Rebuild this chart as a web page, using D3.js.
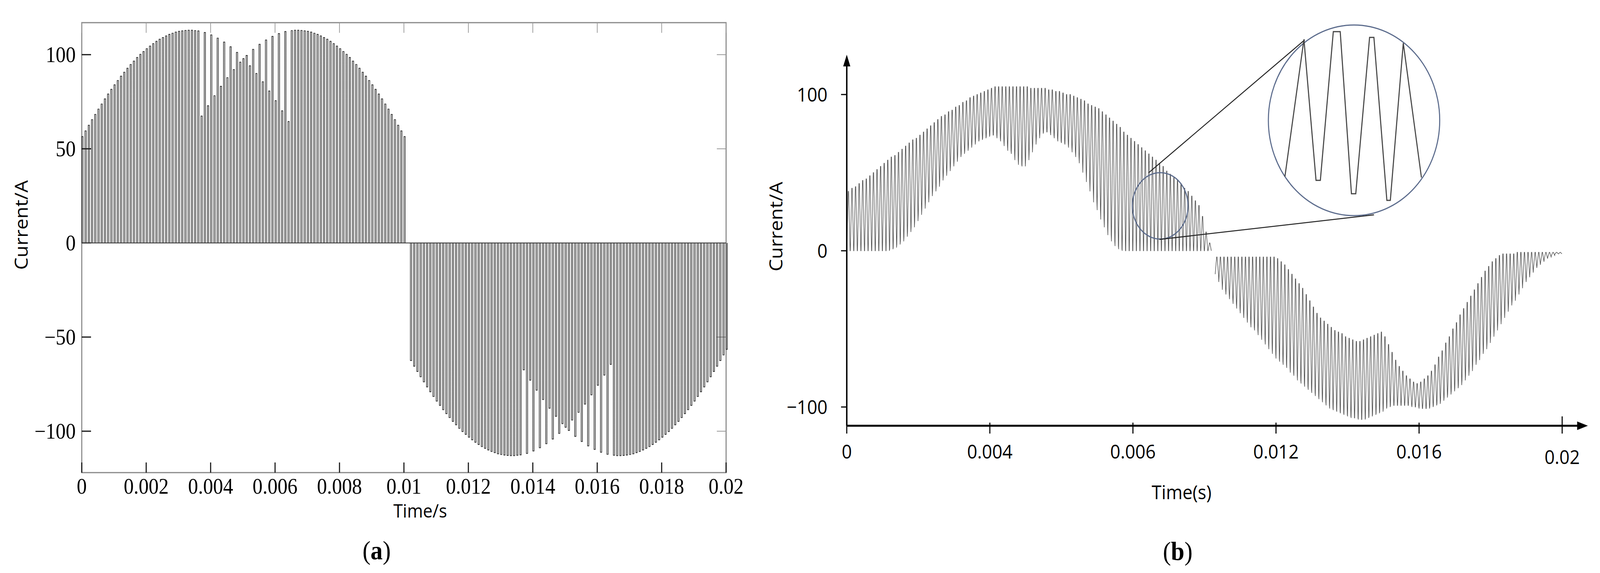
<!DOCTYPE html>
<html><head><meta charset="utf-8">
<script src="https://cdn.jsdelivr.net/npm/d3@7"></script>
<style>html,body{margin:0;padding:0;background:#fff;overflow:hidden}svg{display:block}</style>
</head><body>
<script>
// ---------- DATA ----------
// Panel (a): pulse train, one pulse every 0.1 ms
const pulseStepA = 0.0001;
const posStartA = 0.0;
const posPulsesA = [56.5,59.5,62.5,65.5,68.3,71.1,73.8,76.5,79.1,81.6,84.0,86.3,88.6,90.7,92.8,94.8,96.6,98.5,100.2,101.7,
103.2,104.6,105.9,107.1,108.2,109.1,110.0,110.8,111.4,112.0,112.4,112.7,112.9,113.0,113.0,112.8,
112.6,67.4,111.8,72.9,110.5,78.2,108.8,83.2,106.7,87.8,104.2,92.1,101.2,96.0,97.9,99.6,94.1,102.8,90.0,105.5,85.6,107.8,80.7,109.7,75.6,111.2,70.2,112.3,64.5,
112.8,113.0,113.0,112.9,112.7,112.4,112.0,111.4,110.8,110.0,109.1,108.2,107.1,105.9,104.6,103.2,101.7,100.2,98.5,96.6,94.8,92.8,90.7,88.6,86.3,84.0,81.6,79.1,76.5,73.8,71.1,68.3,65.5,62.5,59.5,56.5];
const negStartA = 0.0102;
const negPulsesA = [-62.5,-65.5,-68.3,-71.1,-73.8,-76.5,-79.1,-81.6,-84.0,-86.3,-88.6,-90.7,-92.8,-94.8,-96.6,-98.5,-100.2,-101.7,
-103.2,-104.6,-105.9,-107.1,-108.2,-109.1,-110.0,-110.8,-111.4,-112.0,-112.4,-112.7,-112.9,-113.0,-113.0,-112.8,
-112.6,-67.4,-111.8,-72.9,-110.5,-78.2,-108.8,-83.2,-106.7,-87.8,-104.2,-92.1,-101.2,-96.0,-97.9,-99.6,-94.1,-102.8,-90.0,-105.5,-85.6,-107.8,-80.7,-109.7,-75.6,-111.2,-70.2,-112.3,-64.5,
-112.8,-113.0,-113.0,-112.9,-112.7,-112.4,-112.0,-111.4,-110.8,-110.0,-109.1,-108.2,-107.1,-105.9,-104.6,-103.2,-101.7,-100.2,-98.5,-96.6,-94.8,-92.8,-90.7,-88.6,-86.3,-84.0,-81.6,-79.1,-76.5,-73.8,-71.1,-68.3,-65.5,-62.5,-59.5,-56.5];
const xTicksA = [0,0.002,0.004,0.006,0.008,0.01,0.012,0.014,0.016,0.018,0.02];
const xTickLabelsA = ["0","0.002","0.004","0.006","0.008","0.01","0.012","0.014","0.016","0.018","0.02"];
const yTicksA = [-100,-50,0,50,100];
const yTickLabelsA = ["\u2212100","\u221250","0","50","100"];

// Panel (b): ripple current, one cycle every 0.1 ms, upper and lower value of each cycle
const cycleStepB = 0.0001;
const posStartB = 0.0;
const posHighB = [38,40,41,43,45,46,48,50,52,54,56,
58,60,61,63,65,67,69,71,72,74,
76,78,80,82,84,86,87,89,90,92,
93,95,96,98,99,100,101,102,103,104,
105,105,105,105,105,105,105,105,105,105,
104,104,104,104,104,103,103,102,102,101,
100,100,99,98,97,96,94,93,92,91,
89,87,85,83,81,79,76,74,72,70,
68,66,64,62,60,58,56,54,51,49,
47,45,43,40,38,35,32,29,22,12,5];
const posLowB = [0,0,0,0,0,0,0,0,0,0,0,
0,1,2,4,6,9,12,15,19,23,
27,31,35,38,41,45,48,51,54,57,
60,62,64,66,68,70,71,72,73,74,
74,72,70,67,64,62,58,55,54,58,
63,68,72,75,76,76,74,72,70,69,
68,66,63,60,56,50,44,38,31,26,
20,15,10,6,3,1,0,0,0,0,
0,0,0,0,0,0,0,0,0,0,
0,0,0,0,0,0,0,0,0,0,0];
const negStartB = 0.0103;
const negHighB = [-4,-4,-4,-4,-4,-4,-4,-4,-4,-4,
-4,-4,-4,-4,-4,-4,-4,-5,-7,-9,
-12,-15,-18,-21,-24,-28,-32,-36,-40,-43,
-45,-47,-49,-51,-52,-53,-55,-56,-57,-58,
-58,-57,-56,-55,-54,-53,-52,-55,-60,-65,
-70,-74,-77,-80,-82,-84,-85,-84,-82,-80,
-77,-73,-68,-64,-59,-55,-50,-46,-41,-37,
-33,-29,-25,-21,-17,-13,-10,-7,-5,-3,
-2,-2,-2,-2,-1,-1,-1,-1,-1,-1,-1,-1,-1,-1,-1,-1,-1];
const negLowB = [-15,-20,-25,-28,-31,-34,-37,-40,-43,-46,
-49,-51,-54,-57,-60,-63,-66,-69,-71,-73,
-75,-78,-80,-83,-85,-87,-89,-91,-93,-95,
-97,-99,-101,-102,-103,-104,-105,-106,-107,-107,
-108,-108,-107,-106,-105,-104,-103,-101,-100,-99,
-99,-99,-99,-99,-99,-100,-100,-101,-101,-101,
-100,-99,-98,-96,-94,-92,-90,-88,-86,-83,
-80,-77,-73,-70,-66,-63,-59,-55,-51,-47,
-43,-39,-35,-32,-28,-24,-20,-17,-14,-11,
-9,-7,-5,-4,-3,-2,-2];
const xTicksB = [0,0.004,0.008,0.012,0.016,0.02];
const xTickLabelsB = ["0","0.004","0.006","0.012","0.016","0.02"];
const yTicksB = [-100,0,100];
const yTickLabelsB = ["\u2212100","0","100"];
// zoomed-in detail (inset), in units of the inset radius
const insetX = [-0.80,-0.58,-0.44,-0.39,-0.24,-0.16,-0.03,0.02,0.18,0.23,0.38,0.42,0.57,0.78];
const insetY = [0.59,-0.85,0.63,0.63,-0.93,-0.93,0.77,0.77,-0.87,-0.87,0.84,0.84,-0.81,0.60];

// ---------- DRAW ----------
const W = 4482, H = 1467;
const svg = d3.select("body").append("svg")
  .attr("viewBox", `0 0 ${W} ${H}`).attr("preserveAspectRatio", "none")
  .style("width", "100vw").style("height", "100vh");
const SANS = "'Open Sans', sans-serif", SERIF = "'Liberation Serif', serif";

// ===== Panel (a) =====
const xa = d3.scaleLinear().domain([0, 0.02]).range([229, 2034]);
const ya = d3.scaleLinear().domain([-122, 117]).range([1210, 58]);
const ga = svg.append("g");
const frameCol = "#888";
ga.append("rect").attr("x", xa(0)).attr("y", ya(117)).attr("width", xa(0.02) - xa(0))
  .attr("height", ya(-122) - ya(117)).attr("fill", "none").attr("stroke", frameCol).attr("stroke-width", 3);
const tl = 26;
xTicksA.forEach(v => {
  ga.append("line").attr("x1", xa(v)).attr("x2", xa(v)).attr("y1", ya(-122)).attr("y2", ya(-122) - tl).attr("stroke", "#111").attr("stroke-width", 3);
  ga.append("line").attr("x1", xa(v)).attr("x2", xa(v)).attr("y1", ya(117)).attr("y2", ya(117) + tl).attr("stroke", "#999").attr("stroke-width", 2);
});
yTicksA.forEach(v => {
  ga.append("line").attr("x1", xa(0)).attr("x2", xa(0) + tl).attr("y1", ya(v)).attr("y2", ya(v)).attr("stroke", "#111").attr("stroke-width", 3);
  ga.append("line").attr("x1", xa(0.02)).attr("x2", xa(0.02) - tl).attr("y1", ya(v)).attr("y2", ya(v)).attr("stroke", "#999").attr("stroke-width", 2);
});
ga.selectAll("text.xt").data(xTicksA).join("text").attr("class", "xt")
  .attr("x", d => xa(d)).attr("y", 1264).attr("text-anchor", "middle")
  .attr("font-family", SERIF).attr("font-size", 56).text((d, i) => xTickLabelsA[i]);
ga.selectAll("text.yt").data(yTicksA).join("text").attr("class", "yt")
  .attr("x", 212).attr("y", d => ya(d) + 19).attr("text-anchor", "end")
  .attr("font-family", SERIF).attr("font-size", 56).text((d, i) => yTickLabelsA[i]);

ga.append("line").attr("x1", xa(0)).attr("x2", xa(0.02)).attr("y1", ya(0)).attr("y2", ya(0)).attr("stroke", "#555").attr("stroke-width", 2.5);
const pw = 0.00004;
function pulsePath(start, arr) {
  let p = "";
  arr.forEach((h, i) => {
    const t = start + i * pulseStepA;
    p += `M${xa(t)},${ya(0)}L${xa(t)},${ya(h)}L${xa(t + pw)},${ya(h)}L${xa(t + pw)},${ya(0)}`;
  });
  return p;
}
ga.append("path").attr("d", pulsePath(posStartA, posPulsesA)).attr("fill", "none").attr("stroke", "#222").attr("stroke-width", 1.7);
ga.append("path").attr("d", pulsePath(negStartA, negPulsesA)).attr("fill", "none").attr("stroke", "#222").attr("stroke-width", 1.7);

ga.append("text").attr("transform", "translate(78,576) rotate(-90)").attr("text-anchor", "middle")
  .attr("font-family", SANS).attr("font-size", 50).text("Current/A");
ga.append("text").attr("x", 1177).attr("y", 1325).attr("text-anchor", "middle")
  .attr("font-family", SANS).attr("font-size", 48).text("Time/s");
const capA = ga.append("text").attr("x", 1055).attr("y", 1432).attr("text-anchor", "middle")
  .attr("font-family", SERIF).attr("font-size", 68);
capA.append("tspan").text("(");
capA.append("tspan").attr("font-weight", "bold").text("a");
capA.append("tspan").text(")");

// ===== Panel (b) =====
const xb = d3.scaleLinear().domain([0, 0.02]).range([2372, 4376]);
const yb = d3.scaleLinear().domain([-100, 100]).range([1042, 242]);
const gb = svg.append("g");
const axisY = 1090;
function ripplePath(start, hi, lo) {
  const pts = [];
  hi.forEach((h, i) => {
    const t = start + i * cycleStepB;
    pts.push([t, lo[i]], [t + 0.00004, h], [t + 0.000052, h], [t + 0.000092, lo[i]]);
  });
  return d3.line().x(d => xb(d[0])).y(d => yb(d[1]))(pts);
}
gb.append("path").attr("d", ripplePath(posStartB, posHighB, posLowB)).attr("fill", "none").attr("stroke", "#555").attr("stroke-width", 1.6);
gb.append("path").attr("d", ripplePath(negStartB, negHighB, negLowB)).attr("fill", "none").attr("stroke", "#555").attr("stroke-width", 1.6);

gb.append("line").attr("x1", xb(0)).attr("x2", 4432).attr("y1", axisY).attr("y2", axisY).attr("stroke", "#000").attr("stroke-width", 5);
gb.append("path").attr("d", `M4448,${axisY}L4418,${axisY - 11}L4418,${axisY + 11}Z`).attr("fill", "#000");
gb.append("line").attr("x1", xb(0)).attr("x2", xb(0)).attr("y1", axisY).attr("y2", 160).attr("stroke", "#000").attr("stroke-width", 4);
gb.append("path").attr("d", `M${xb(0)},140L${xb(0) - 10},170L${xb(0) + 10},170Z`).attr("fill", "#000");
xTicksB.forEach(v => {
  gb.append("line").attr("x1", xb(v)).attr("x2", xb(v)).attr("y1", axisY - (v === 0.02 ? 24 : 8)).attr("y2", axisY + 20).attr("stroke", "#000").attr("stroke-width", 3);
});
yTicksB.forEach(v => {
  gb.append("line").attr("x1", xb(0) - 16).attr("x2", xb(0)).attr("y1", yb(v)).attr("y2", yb(v)).attr("stroke", "#000").attr("stroke-width", 3);
});
gb.selectAll("text.xt").data(xTicksB).join("text").attr("class", "xt")
  .attr("x", d => xb(d)).attr("y", (d, i) => i === xTicksB.length - 1 ? 1188 : 1174).attr("text-anchor", "middle")
  .attr("font-family", SANS).attr("font-size", 50).text((d, i) => xTickLabelsB[i]);
gb.selectAll("text.yt").data(yTicksB).join("text").attr("class", "yt")
  .attr("x", 2318).attr("y", d => yb(d) + 18).attr("text-anchor", "end")
  .attr("font-family", SANS).attr("font-size", 50).text((d, i) => yTickLabelsB[i]);
gb.append("text").attr("transform", "translate(2192,580) rotate(-90)").attr("text-anchor", "middle")
  .attr("font-family", SANS).attr("font-size", 50).text("Current/A");
gb.append("text").attr("x", 3310).attr("y", 1278).attr("text-anchor", "middle")
  .attr("font-family", SANS).attr("font-size", 50).text("Time(s)");
const capB = gb.append("text").attr("x", 3299).attr("y", 1434).attr("text-anchor", "middle")
  .attr("font-family", SERIF).attr("font-size", 68);
capB.append("tspan").text("(");
capB.append("tspan").attr("font-weight", "bold").text("b");
capB.append("tspan").text(")");

const insetCol = "#5b6b8c";
gb.append("ellipse").attr("cx", 3250).attr("cy", 527).attr("rx", 78).attr("ry", 85).attr("fill", "none").attr("stroke", insetCol).attr("stroke-width", 3);
gb.append("line").attr("x1", 3218).attr("y1", 442).attr("x2", 3655).attr("y2", 102).attr("stroke", "#222").attr("stroke-width", 2.5);
gb.append("line").attr("x1", 3248).attr("y1", 613).attr("x2", 3849).attr("y2", 550).attr("stroke", "#222").attr("stroke-width", 2.5);
gb.append("ellipse").attr("cx", 3793).attr("cy", 308).attr("rx", 240).attr("ry", 244).attr("fill", "#fff").attr("stroke", insetCol).attr("stroke-width", 3);
const ix = d3.scaleLinear().domain([-1, 1]).range([3793 - 242, 3793 + 242]);
const iy = d3.scaleLinear().domain([-1, 1]).range([308 - 244, 308 + 244]);
gb.append("path").attr("d", d3.line().x(d => ix(d)).y((d, i) => iy(insetY[i]))(insetX))
  .attr("fill", "none").attr("stroke", "#444").attr("stroke-width", 3);
</script>
</body></html>
